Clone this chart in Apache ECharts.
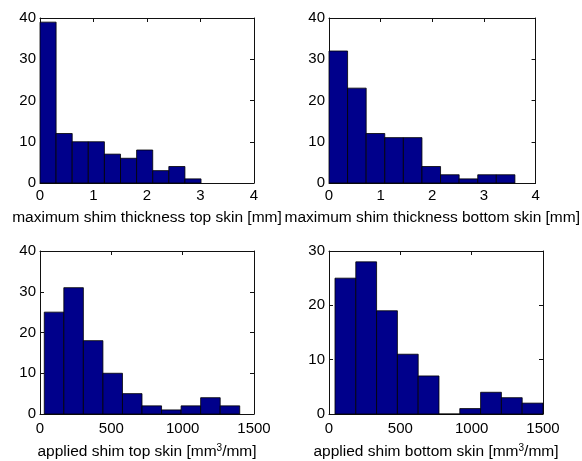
<!DOCTYPE html>
<html>
<head>
<meta charset="utf-8">
<script src="https://cdn.jsdelivr.net/npm/echarts@6/dist/echarts.min.js"></script>
<style>
  html, body { margin: 0; padding: 0; background: #fff; }
  #chart { width: 582px; height: 461px; }
</style>
</head>
<body>
<div id="chart"></div>
<script>
// histogram counts per panel (10 bins each)
const topSkinThickness = [39, 12, 10, 10, 7, 6, 8, 3, 4, 1];
const bottomSkinThickness = [32, 23, 12, 11, 11, 4, 2, 1, 2, 2];
const topSkinShim = [25, 31, 18, 10, 5, 2, 1, 2, 4, 2];
const bottomSkinShim = [25, 28, 19, 11, 7, 0, 1, 4, 3, 2];

// data range covered by the bins [lo, hi]
const topSkinThicknessRange = [0, 3.01];
const bottomSkinThicknessRange = [0, 3.6];
const topSkinShimRange = [30, 1400];
const bottomSkinShimRange = [42, 1500];

// axis ticks
const thicknessTicks = [0, 1, 2, 3, 4];
const shimTicks = [0, 500, 1000, 1500];
const countTicks40 = [0, 10, 20, 30, 40];
const countTicks30 = [0, 10, 20, 30];

// axis titles ({s|..} = superscript)
const titles = [
  '{t|maximum shim thickness top skin [mm]}',
  '{t|maximum shim thickness bottom skin [mm]}',
  '{t|applied shim top skin [mm}{s|3}{t|/mm]}',
  '{t|applied shim bottom skin [mm}{s|3}{t|/mm]}'
];

const panels = [
  { counts: topSkinThickness, range: topSkinThicknessRange, xt: thicknessTicks, yt: countTicks40 },
  { counts: bottomSkinThickness, range: bottomSkinThicknessRange, xt: thicknessTicks, yt: countTicks40 },
  { counts: topSkinShim, range: topSkinShimRange, xt: shimTicks, yt: countTicks40 },
  { counts: bottomSkinShim, range: bottomSkinShimRange, xt: shimTicks, yt: countTicks30 }
];

const grids = [
  { left: 40, top: 18, width: 214, height: 165 },
  { left: 329, top: 18, width: 214, height: 165 },
  { left: 40, top: 251, width: 214, height: 164 },
  { left: 329, top: 251, width: 214, height: 164 }
];
const nameGaps = [27, 27, 29, 29];
const labelMargins = [5, 5, 7, 7];

const font = 'Liberation Sans, Arial, sans-serif';
const frame = '#111';

const xAxis = [];
const yAxis = [];
const series = [];

panels.forEach((p, i) => {
  const xStep = p.xt[1] - p.xt[0];
  const yStep = p.yt[1] - p.yt[0];
  const xMin = p.xt[0], xMax = p.xt[p.xt.length - 1];
  const yMin = p.yt[0], yMax = p.yt[p.yt.length - 1];

  // bottom + top x axes
  xAxis.push({
    type: 'value', gridIndex: i, min: xMin, max: xMax, interval: xStep,
    position: 'bottom',
    name: titles[i], nameLocation: 'middle', nameGap: nameGaps[i],
    nameTextStyle: {
      color: '#000', fontFamily: font,
      rich: {
        t: { fontSize: 15.5, fontFamily: font, color: '#000' },
        s: { fontSize: 10, fontFamily: font, color: '#000', verticalAlign: 'top', padding: [0, 0, 8, 0] }
      }
    },
    axisLine: { show: true, onZero: false, lineStyle: { color: frame } },
    axisTick: { show: true, inside: true, length: 4, lineStyle: { color: frame } },
    axisLabel: { color: '#000', fontSize: 15, fontFamily: font, margin: labelMargins[i], formatter: v => String(v) },
    splitLine: { show: false }
  });
  xAxis.push({
    type: 'value', gridIndex: i, min: xMin, max: xMax, interval: xStep,
    position: 'top',
    axisLine: { show: true, onZero: false, lineStyle: { color: frame } },
    axisTick: { show: true, inside: true, length: 4, lineStyle: { color: frame } },
    axisLabel: { show: false },
    splitLine: { show: false }
  });
  // left + right y axes
  yAxis.push({
    type: 'value', gridIndex: i, min: yMin, max: yMax, interval: yStep,
    position: 'left',
    axisLine: { show: true, onZero: false, lineStyle: { color: frame } },
    axisTick: { show: true, inside: true, length: 4, lineStyle: { color: frame } },
    axisLabel: { color: '#000', fontSize: 15, fontFamily: font, margin: 4, formatter: v => String(v) },
    splitLine: { show: false }
  });
  yAxis.push({
    type: 'value', gridIndex: i, min: yMin, max: yMax, interval: yStep,
    position: 'right',
    axisLine: { show: true, onZero: false, lineStyle: { color: frame } },
    axisTick: { show: true, inside: true, length: 4, lineStyle: { color: frame } },
    axisLabel: { show: false },
    splitLine: { show: false }
  });

  const n = p.counts.length;
  const w = (p.range[1] - p.range[0]) / n;
  const binData = p.counts.map((c, k) => [p.range[0] + k * w, p.range[0] + (k + 1) * w, c]);

  series.push({
    type: 'custom',
    xAxisIndex: i * 2,
    yAxisIndex: i * 2,
    data: binData,
    encode: { x: [0, 1], y: 2 },
    silent: true,
    renderItem: function (params, api) {
      const a = api.coord([api.value(0), 0]);
      const b = api.coord([api.value(1), api.value(2)]);
      return {
        type: 'rect',
        shape: { x: a[0], y: b[1], width: b[0] - a[0], height: a[1] - b[1] },
        style: { fill: '#00008B', stroke: '#000', lineWidth: 0.8 }
      };
    }
  });
});

const myChart = echarts.init(document.getElementById('chart'));
myChart.setOption({
  animation: false,
  backgroundColor: '#fff',
  grid: grids,
  xAxis: xAxis,
  yAxis: yAxis,
  series: series
});
</script>
</body>
</html>
